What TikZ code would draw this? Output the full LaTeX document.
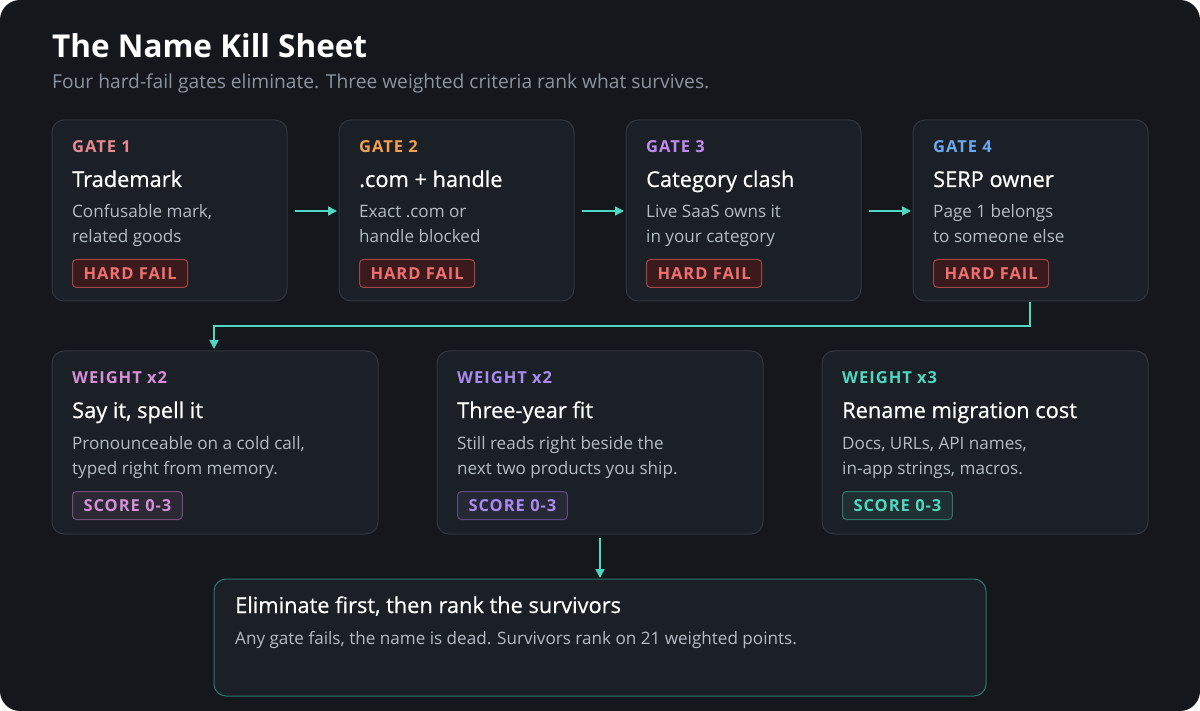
\documentclass[tikz,border=0pt]{standalone}
\usepackage{fontspec}
\setmainfont{Open Sans}
\usetikzlibrary{arrows.meta,positioning}
\definecolor{bgdark}{HTML}{14181D}
\definecolor{cardbg}{HTML}{1B2026}
\definecolor{cardline}{HTML}{30363D}
\definecolor{subgray}{HTML}{8B949E}
\definecolor{descgray}{HTML}{B4BCC4}
\definecolor{teal}{HTML}{4FD8C0}
\definecolor{gateA}{HTML}{E8898F}
\definecolor{gateB}{HTML}{F0A050}
\definecolor{gateC}{HTML}{C08AF0}
\definecolor{gateD}{HTML}{6AA8F0}
\definecolor{wtA}{HTML}{D68FD8}
\definecolor{wtB}{HTML}{A98AF0}
\definecolor{failbg}{HTML}{3A1A1C}
\definecolor{failline}{HTML}{A04548}
\definecolor{failtext}{HTML}{F07070}
\begin{document}
\begin{tikzpicture}[x=1pt,y=-1pt,
  card/.style={draw=cardline, fill=cardbg, rounded corners=12pt, line width=1pt},
  tag/.style={anchor=base west, inner xsep=0pt, font=\fontsize{16.5}{16}\selectfont\bfseries\addfontfeature{LetterSpace=6}},
  head/.style={anchor=base west, inner xsep=0pt, text=white, font=\fontsize{21.8}{21}\selectfont\addfontfeature{FakeBold=0.6}},
  desc/.style={anchor=base west, inner xsep=0pt, text=descgray, font=\fontsize{17.1}{25}\selectfont, align=left},
  badge/.style={draw=#1, rounded corners=4pt, line width=1pt, inner xsep=11pt, inner ysep=0pt, minimum height=28pt, anchor=north west, font=\fontsize{16.5}{16}\selectfont\bfseries\addfontfeature{LetterSpace=6}},
  flow/.style={-{Triangle[length=9pt,width=9pt]}, teal, line width=1.6pt}]
% Background
\fill[bgdark, rounded corners=20pt] (0,0) rectangle (1200,711);
\node[anchor=base west, inner xsep=0pt, text=white, font=\fontsize{31.5}{31}\selectfont\bfseries] (title) at (52,58) {The Name Kill Sheet};
\node[anchor=base west, inner xsep=0pt, text=subgray, font=\fontsize{19.2}{19}\selectfont] (sub) at (52,89) {Four hard-fail gates eliminate. Three weighted criteria rank what survives.};
% Gates
\foreach \x/\n/\c/\t/\da/\db in {52/1/gateA/Trademark/{Confusable mark,}/{related goods},
  339/2/gateB/.com + handle/{Exact .com or}/{handle blocked},
  626/3/gateC/Category clash/{Live SaaS owns it}/{in your category},
  913/4/gateD/SERP owner/{Page 1 belongs}/{to someone else}}{
  \draw[card] (\x,120) rectangle ++(235,181);
  \coordinate (g\n) at (\x,120);
  \node[tag, text=\c] at (\x+20,153) {GATE \n};
  \node[head] at (\x+20,187) {\t};
  \node[desc] at (\x+20,218) {\da};
  \node[desc] at (\x+20,243) {\db};
  \node[badge=failline, fill=failbg, text=failtext] at (\x+20,259) {HARD FAIL};
}
\coordinate (g1e) at (295,211); \coordinate (g2w) at (337,211);
\coordinate (g2e) at (582,211); \coordinate (g3w) at (624,211);
\coordinate (g3e) at (869,211); \coordinate (g4w) at (911,211);
\draw[flow] (g1e) -- (g2w);
\draw[flow] (g2e) -- (g3w);
\draw[flow] (g3e) -- (g4w);
% Weights
\foreach \x/\n/\c/\k/\t/\da/\db in {52/1/wtA/2/{Say it, spell it}/{Pronounceable on a cold call,}/{typed right from memory.},
  437/2/wtB/2/Three-year fit/{Still reads right beside the}/{next two products you ship.},
  822/3/teal/3/Rename migration cost/{Docs, URLs, API names,}/{in-app strings, macros.}}{
  \draw[card] (\x,351) rectangle ++(326,183);
  \node[tag, text=\c] at (\x+20,384) {WEIGHT x\k};
  \node[head] at (\x+20,418) {\t};
  \node[desc] at (\x+20,449) {\da};
  \node[desc] at (\x+20,474) {\db};
  \node[badge=\c!55!black, fill=\c!8!cardbg, text=\c] at (\x+20,491) {SCORE 0-3};
}
\coordinate (g4s) at (1030,302); \coordinate (w1n) at (214,349);
\draw[flow] (g4s) |- (600,326) -| (w1n);
% Summary
\draw[card, draw=teal!55!black] (214,579) rectangle (986,696);
\node[head] (sumhead) at (235,613) {Eliminate first, then rank the survivors};
\node[desc] (sumdesc) at (235,644) {Any gate fails, the name is dead. Survivors rank on 21 weighted points.};
\coordinate (w2s) at (600,538); \coordinate (sumn) at (600,578);
\draw[flow] (w2s) -- (sumn);
\end{tikzpicture}
\end{document}
